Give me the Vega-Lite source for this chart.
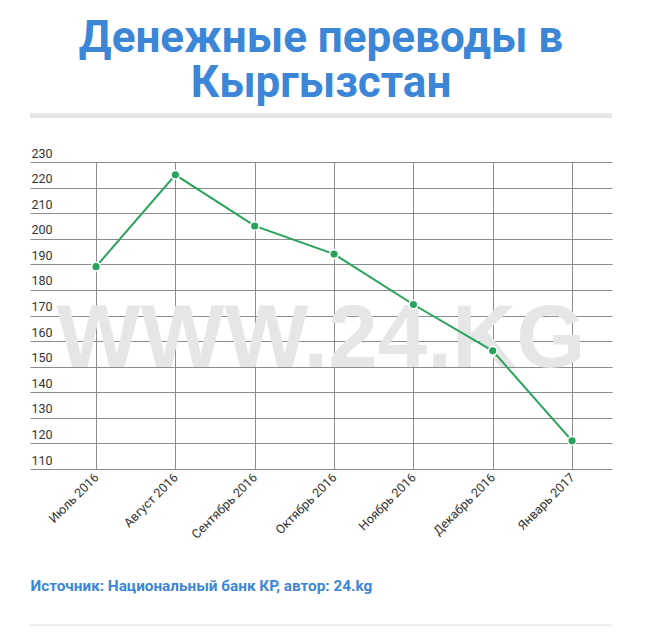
{
  "$schema": "https://vega.github.io/schema/vega-lite/v6.json",
  "autosize": {"type": "none"},
  "width": 582,
  "height": 307,
  "padding": {"left": 30, "top": 162, "right": 38, "bottom": 166},
  "background": "white",
  "title": {
    "text": ["Денежные переводы в", "Кыргызстан"],
    "font": "Roboto",
    "fontSize": 44,
    "fontWeight": "bold",
    "color": "#3b86d6",
    "anchor": "middle",
    "lineHeight": 45,
    "offset": 7
  },
  "config": {
    "view": {"stroke": null},
    "font": "Roboto",
    "axisY": {
      "title": null,
      "tickCount": 12,
      "labelOverlap": false,
      "labelAlign": "left", "labelBaseline": "alphabetic", "labelPadding": -1, "labelOffset": -5,
      "labelFont": "Roboto", "labelFontSize": 12.5, "labelColor": "#333333",
      "ticks": false, "domain": false,
      "grid": true, "gridColor": "#8c8c8c", "gridWidth": 1
    }
  },
  "datasets": {
    "series": [
      {"month": "Июль 2016", "value": 189.1},
      {"month": "Август 2016", "value": 225.0},
      {"month": "Сентябрь 2016", "value": 205.0},
      {"month": "Октябрь 2016", "value": 194.0},
      {"month": "Ноябрь 2016", "value": 174.3},
      {"month": "Декабрь 2016", "value": 156.2},
      {"month": "Январь 2017", "value": 121.0}
    ]
  },
  "layer": [
    {
      "data": {"values": [{"label": "WWW.24.KG", "value": 160.4}]},
      "mark": {"type": "text", "font": "Liberation Sans", "fontWeight": "bold", "fontSize": 89, "color": "#e6e6e6", "align": "center", "baseline": "middle"},
      "encoding": {
        "y": {"field": "value", "type": "quantitative", "scale": {"domain": [110, 230], "nice": false, "zero": false},
          "axis": {"tickCount": 12, "labelOverlap": false}},
        "text": {"field": "label"}
      }
    },
    {
      "data": {"name": "series"},
      "mark": {"type": "line", "color": "#27a35b", "strokeWidth": 2},
      "encoding": {
        "x": {
          "field": "month", "type": "ordinal", "sort": null,
          "scale": {"type": "point", "padding": 0.668, "align": 0.623},
          "axis": {
            "title": "Источник: Национальный банк КР, автор: 24.kg",
            "titleFont": "Roboto", "titleFontSize": 15.3, "titleFontWeight": "bold", "titleColor": "#3b86d6",
            "titleAnchor": "start", "titleAlign": "left", "titlePadding": 38,
            "labelAngle": -45, "labelAlign": "right", "labelBaseline": "middle",
            "labelFont": "Roboto", "labelFontSize": 12.5, "labelColor": "#333333", "labelPadding": 6,
            "ticks": false, "domain": false,
            "grid": true, "gridColor": "#8c8c8c", "gridWidth": 1
          }
        },
        "y": {
          "field": "value", "type": "quantitative",
          "scale": {"domain": [110, 230], "nice": false, "zero": false},
          "axis": {"tickCount": 12, "labelOverlap": false}
        }
      }
    },
    {
      "data": {"name": "series"},
      "mark": {"type": "point", "filled": true, "color": "#27a35b", "size": 75, "opacity": 1, "stroke": "white", "strokeWidth": 1.5},
      "encoding": {
        "x": {"field": "month", "type": "ordinal", "sort": null},
        "y": {"field": "value", "type": "quantitative"}
      }
    },
    {
      "data": {"values": [{"pos": 248.2}]},
      "mark": {"type": "rule", "color": "#e6e6e6", "strokeWidth": 5},
      "encoding": {"y": {"field": "pos", "type": "quantitative"}}
    },
    {
      "data": {"values": [{"pos": 49}]},
      "mark": {"type": "rule", "color": "#dddddd", "strokeWidth": 1},
      "encoding": {"y": {"field": "pos", "type": "quantitative"}}
    }
  ]
}
